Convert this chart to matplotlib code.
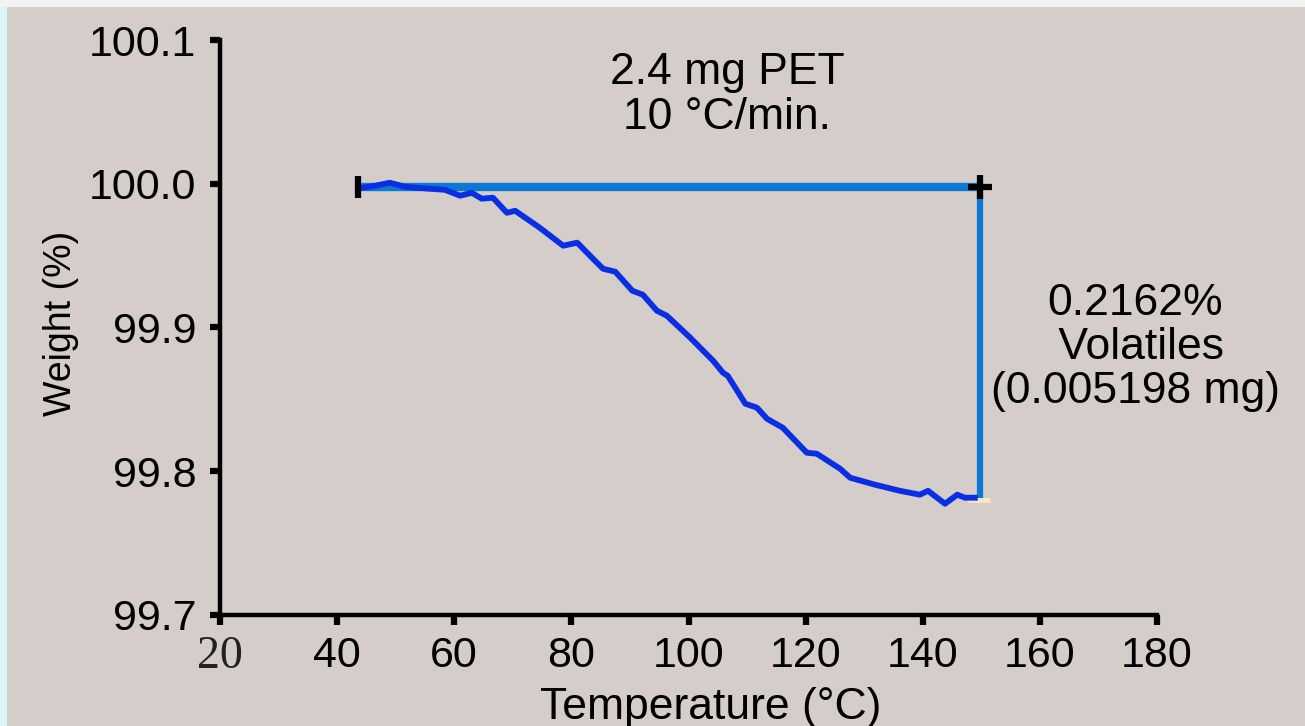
import matplotlib
matplotlib.use("Agg")
import matplotlib.pyplot as plt
from matplotlib.patches import Rectangle

# Data
temp = [43.9, 46.5, 49.0, 51.6, 55.9, 58.4, 61.0, 63.0, 64.7, 66.6, 69.0, 70.4,
        74.6, 78.6, 81.0, 83.7, 85.4, 87.5, 90.4, 92.2, 94.6, 96.3, 100.3, 104.2,
        105.9, 106.7, 109.7, 111.7, 113.4, 116.1, 120.2, 121.9, 125.9, 127.6,
        131.9, 136.1, 139.5, 140.9, 143.8, 145.9, 147.2, 148.9]
weight = [99.997, 99.9986, 100.0007, 99.9979, 99.9965, 99.9958, 99.9917, 99.9937,
          99.9896, 99.9903, 99.9798, 99.9812, 99.9694, 99.9569, 99.9590, 99.9478,
          99.9409, 99.9388, 99.9256, 99.9228, 99.9117, 99.9082, 99.8929, 99.8769,
          99.8685, 99.8664, 99.8470, 99.8442, 99.8365, 99.8303, 99.8129, 99.8122,
          99.8017, 99.7955, 99.7906, 99.7864, 99.7837, 99.7864, 99.7774, 99.7837,
          99.7816, 99.7816]
step_start_T = 43.6
step_end_T = 149.8
step_top_W = 99.9975
step_bottom_W = 99.7813
x_ticks = [20, 40, 60, 80, 100, 120, 140, 160, 180]
y_ticks = [99.7, 99.8, 99.9, 100.0, 100.1]
y_ticklabels = ["99.7", "99.8", "99.9", "100.0", "100.1"]
title_text = "2.4 mg PET\n10 °C/min."
annot_text = "0.2162%\n Volatiles\n(0.005198 mg)"

plt.rcParams['font.family'] = ['Liberation Sans', 'DejaVu Sans']
bg = '#d5cdca'
fig = plt.figure(figsize=(13.05, 7.26), dpi=100, facecolor=bg)
# edge strips
fig.patches.append(Rectangle((0, 0), 7/1305, 1, transform=fig.transFigure,
                             facecolor='#d9f7f8', edgecolor='none', zorder=0))
fig.patches.append(Rectangle((0, 1-7/726), 1, 7/726, transform=fig.transFigure,
                             facecolor='#f1f2f2', edgecolor='none', zorder=0))

ax = fig.add_axes([220/1305, 1-615/726, (1157-220)/1305, (615-40)/726])
ax.set_facecolor(bg)
ax.set_xlim(20, 180)
ax.set_ylim(99.7, 100.1)
for s in ['top', 'right']:
    ax.spines[s].set_visible(False)
for s in ['left', 'bottom']:
    ax.spines[s].set_linewidth(3.2)
    ax.spines[s].set_color('black')
ax.set_xticks(x_ticks)
ax.set_yticks(y_ticks)
ax.set_yticklabels(y_ticklabels)
ax.tick_params(axis='both', length=7, width=4.5, labelsize=31, color='black')
ax.tick_params(axis='y', pad=10)
ax.tick_params(axis='x', pad=8)
lbls = ax.get_xticklabels()
lbls[0].set_fontfamily('Liberation Serif')
lbls[0].set_fontsize(33)
lbls[0].set_color('#222222')

# step annotation lines
ax.plot([step_start_T, step_end_T], [step_top_W, step_top_W], color='#0b78d3',
        lw=6, solid_capstyle='butt', zorder=2)
ax.plot([step_end_T, step_end_T], [step_top_W, step_bottom_W], color='#0b78d3',
        lw=4.5, solid_capstyle='butt', zorder=2)
ax.plot([step_end_T - 2, step_end_T + 1.7], [step_bottom_W - 0.0012] * 2,
        color='#fbe6c0', lw=3.5, solid_capstyle='butt', zorder=2)

# curve
ax.plot(temp, weight, color='#0a2fe3', lw=4.2, zorder=3, solid_joinstyle='round')

# markers
ax.plot([step_start_T], [step_top_W], marker='|', color='black', ms=16, mew=4.5, zorder=4)
ax.plot([step_end_T], [step_top_W], marker='+', color='black', ms=17, mew=4.5, zorder=4)

ax.text((727-220)/5.856 + 20, 100.0 + (183-94)/1437.5, title_text, ha='center',
        va='center', fontsize=32, linespacing=1.12)
ax.text((1135-220)/5.856 + 20, 100.0 - (347-183)/1437.5, annot_text, ha='center',
        va='center', fontsize=32, linespacing=1.1)

fig.text(61/1305, 1-323/726, "Weight (%)", rotation=90, ha='center', va='center',
         fontsize=27)
fig.text(711/1305, 1-708/726, "Temperature (°C)", ha='center', va='center',
         fontsize=32)

fig.savefig('out.png', dpi=100, facecolor=bg)
